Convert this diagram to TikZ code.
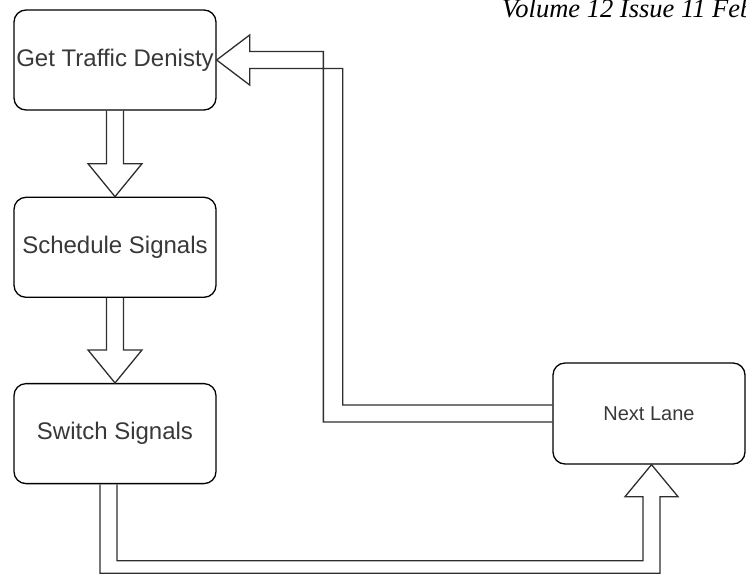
\documentclass[tikz,border=0pt]{standalone}
\usepackage{fontspec}
\setmainfont{Liberation Sans}
\newfontfamily\headfont{Liberation Serif}
\usetikzlibrary{positioning,calc}

\begin{document}
\begin{tikzpicture}[x=1pt, y=-1pt, box/.style={draw=black, line width=1.3pt, rounded corners=12pt, minimum width=202pt, minimum height=100pt, inner sep=1pt, text=black!78, font=\fontsize{24}{28}\selectfont}, blockarrow/.style={draw=black!82, line width=1.3pt, line join=miter}]
\useasboundingbox (0,0) rectangle (746,574);
\clip (0,0) rectangle (746,574);
\node[anchor=base west, font=\headfont\itshape\fontsize{26.5}{30}\selectfont, inner sep=0pt] (issue) at (502,17) {Volume 12 Issue 11 Feb};
\node[box] (density) at (115,60) {Get Traffic Denisty};
\node[box, below=86pt of density] (schedule) {Schedule Signals};
\node[box, below=85pt of schedule] (switch) {Switch Signals};
\node[box, minimum width=192pt, minimum height=101pt, font=\fontsize{20}{24}\selectfont] (lane) at (649,413.5) {Next Lane};
\coordinate (switchout) at ($(switch.south)+(-6.5,0)$);
\coordinate (lanein) at ($(lane.south)+(2.5,0)$);
\draw[blockarrow] ($(density.south)+(-8.5,0)$) -- ($(schedule.north)+(-8.5,-33)$) -- ($(schedule.north)+(-27,-33)$) -- (schedule.north) -- ($(schedule.north)+(27,-33)$) -- ($(schedule.north)+(8.5,-33)$) -- ($(density.south)+(8.5,0)$);
\draw[blockarrow] ($(schedule.south)+(-8.5,0)$) -- ($(switch.north)+(-8.5,-33)$) -- ($(switch.north)+(-27,-33)$) -- (switch.north) -- ($(switch.north)+(27,-33)$) -- ($(switch.north)+(8.5,-33)$) -- ($(schedule.south)+(8.5,0)$);
\draw[blockarrow] ($(switchout)+(-8.5,0)$) |- ($(lanein)+(8.5,108.5)$) -- ($(lanein)+(8.5,32)$) -- ($(lanein)+(26.5,32)$) -- (lanein) -- ($(lanein)+(-26.5,32)$) -- ($(lanein)+(-8.5,32)$) |- ($(switchout)+(8.5,76.5)$) -- ($(switchout)+(8.5,0)$);
\draw[blockarrow] ($(lane.west)+(0,-8.5)$) -| ($(density.east)+(126,8.5)$) -- ($(density.east)+(33,8.5)$) -- ($(density.east)+(33,25)$) -- (density.east) -- ($(density.east)+(33,-25)$) -- ($(density.east)+(33,-8.5)$) -| ($(lane.west)+(-229,8.5)$) -- ($(lane.west)+(0,8.5)$);
\end{tikzpicture}
\end{document}
